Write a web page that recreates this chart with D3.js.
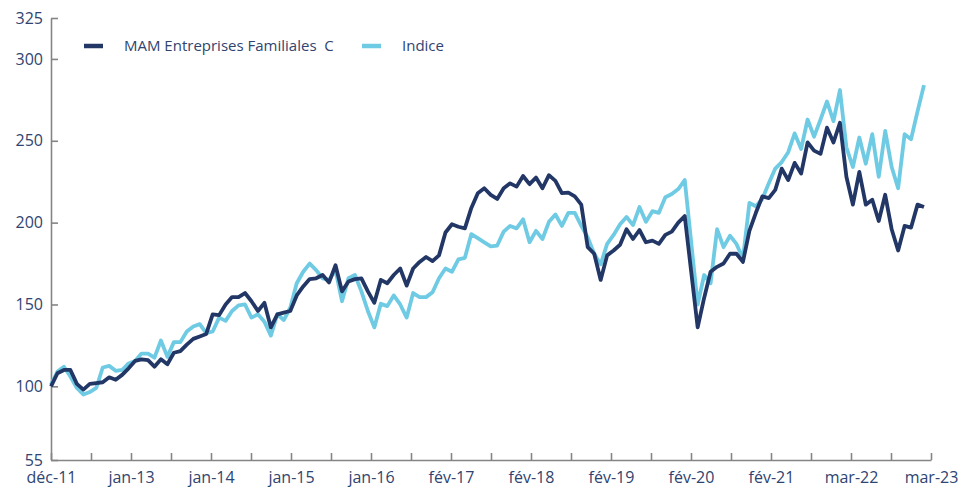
<!DOCTYPE html>
<html>
<head>
<meta charset="utf-8">
<script src="https://cdn.jsdelivr.net/npm/d3@7"></script>
<style>
  html, body { margin: 0; padding: 0; background: #ffffff; }
  svg { display: block; }
  text { font-family: "Open Sans", "Noto Sans", sans-serif; }
</style>
</head>
<body>
<svg id="chart" width="961" height="488"></svg>
<script>
// ---- data (monthly, déc-11 .. mar-23) ----
const seriesNames = ["MAM Entreprises Familiales  C", "Indice"];
const fundValues = [
  100, 108, 110, 110, 101.5, 98, 101.5, 102, 102.5, 105.5,
  104, 107, 111, 115.5, 116.5, 116, 112, 116.5, 113.5, 120.5,
  121.5, 125.5, 129, 130.5, 132, 144, 143.5, 150, 154.5, 154.5,
  157, 152, 146, 151, 136, 144, 145, 146, 155.5, 161,
  165.5, 166, 168, 163.5, 174, 158, 164, 165.5, 166, 158,
  151, 165, 163, 168, 172, 161.5, 172, 176, 179, 176.5,
  180, 194, 199, 197.5, 196.5, 209, 218, 221, 217, 214.5,
  221, 224, 222, 228.5, 223.5, 227.5, 221, 229, 225.5, 218,
  218.3, 216, 211, 185, 181, 165, 180, 183, 186.5, 196,
  190, 195.5, 188, 189, 187, 192.5, 194.5, 200, 204, 170,
  136, 154, 170, 173, 175, 181, 181, 176, 195, 206,
  216, 215, 220, 233, 226, 236.5, 230, 249, 244, 242,
  258, 249, 261, 228, 211, 231, 211, 214, 201, 217,
  196, 183, 198, 197, 211, 209.5
];
const indexValues = [
  101, 109, 112, 106, 99, 95, 96.5, 99, 111.5, 112.5,
  109.5, 110, 114, 115.5, 120, 120, 117.5, 128, 118, 127,
  127, 133.5, 136.5, 138, 132.5, 133.5, 142, 140, 146, 149.5,
  150, 142, 144, 139.5, 131, 144, 140.5, 148, 163, 170,
  175, 171, 166, 165, 171, 152, 166, 168, 158, 146,
  136, 150.5, 149, 155.5, 150, 142, 157, 154.5, 154.5, 157.5,
  166, 172, 170, 177.5, 178.5, 193, 190.5, 188, 185.5, 186,
  194.5, 198, 196.5, 202, 188, 195, 190, 200.5, 205, 198,
  206, 206, 198, 191, 181, 174.5, 187, 192.5, 199, 203.5,
  198.5, 209.5, 200.5, 207, 206, 215.5, 217.5, 220.5, 226, 188,
  150, 168, 163, 196, 185, 192, 187, 178, 212, 210,
  214.5, 224, 233, 237, 243, 254.5, 245, 263, 252.5, 263,
  274, 262, 281, 246, 234, 252, 236, 254, 228, 256,
  234, 221, 254, 251, 268, 284
];
const yTickValues = [55, 100, 150, 200, 250, 300, 325];
const xTickLabels = [
  "déc-11", "", "jan-13", "", "jan-14", "", "jan-15", "", "jan-16", "",
  "fév-17", "", "fév-18", "", "fév-19", "", "fév-20", "", "fév-21", "",
  "mar-22", "", "mar-23"
];

(function () {
  // ---- layout ----
  const svg = d3.select("#chart");
  const mLeft = 51, mRight = 931, mTop = 18, mBottom = 460;
  const dataRight = 924;
  const colors = ["#223766", "#6fcbe3"];
  const textColor = "#2f4470";
  const axisColor = "#858585";

  const x = d3.scaleLinear().domain([0, fundValues.length - 1]).range([mLeft, dataRight]);
  const xTicks = d3.scalePoint().domain(d3.range(xTickLabels.length)).range([mLeft, mRight]);
  const y = d3.scaleLinear().domain([55, 325]).range([mBottom, mTop]);

  // axes
  const yAxis = d3.axisLeft(y).tickValues(yTickValues).tickSizeInner(-7).tickSizeOuter(0).tickPadding(8);
  const gy = svg.append("g").attr("transform", `translate(${mLeft},0)`).call(yAxis);

  const xAxis = d3.axisBottom(xTicks).tickSizeInner(-7).tickSizeOuter(0).tickPadding(12)
    .tickFormat(i => xTickLabels[i]);
  const gx = svg.append("g").attr("transform", `translate(0,${mBottom})`).call(xAxis);

  [gx, gy].forEach(g => {
    g.selectAll(".domain").attr("stroke", axisColor).attr("stroke-width", 1.6);
    g.selectAll(".tick line").attr("stroke", axisColor).attr("stroke-width", 1.6);
    g.selectAll(".tick text").attr("fill", textColor).style("font-size", "16px")
      .style("font-family", "'Open Sans', 'Noto Sans', sans-serif");
  });

  // lines (index first, fund on top)
  const line = d3.line().x((d, i) => x(i)).y(d => y(d));
  [[indexValues, colors[1]], [fundValues, colors[0]]].forEach(([vals, col]) => {
    svg.append("path")
      .datum(vals)
      .attr("fill", "none")
      .attr("stroke", col)
      .attr("stroke-width", 3.8)
      .attr("stroke-linejoin", "round")
      .attr("d", line);
  });

  // legend
  const legend = svg.append("g");
  const legendItems = [
    { name: seriesNames[0], color: colors[0], sx: 84, tx: 124 },
    { name: seriesNames[1], color: colors[1], sx: 362, tx: 402 }
  ];
  legendItems.forEach(it => {
    legend.append("line")
      .attr("x1", it.sx).attr("x2", it.sx + 19)
      .attr("y1", 46).attr("y2", 46)
      .attr("stroke", it.color).attr("stroke-width", 4.5);
    legend.append("text")
      .attr("x", it.tx).attr("y", 46).attr("dy", "0.35em")
      .attr("fill", textColor)
      .style("font-size", "15px")
      .style("white-space", "pre")
      .text(it.name);
  });
})();
</script>
</body>
</html>
